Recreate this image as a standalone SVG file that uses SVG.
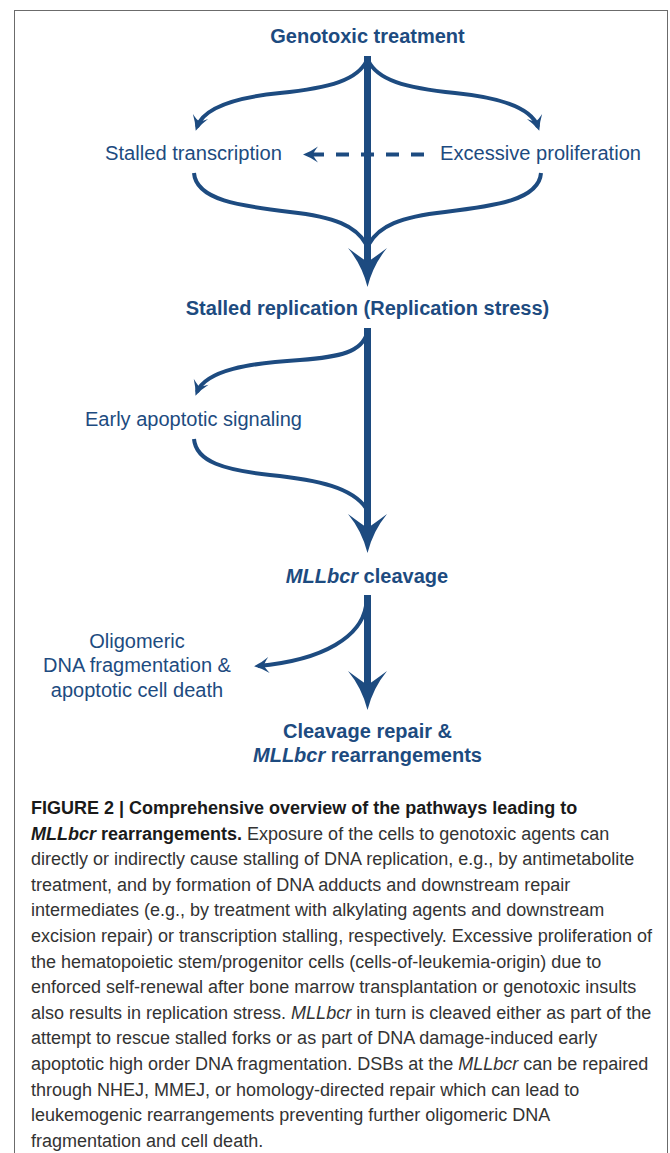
<svg xmlns="http://www.w3.org/2000/svg" width="670" height="1153" viewBox="0 0 670 1153">
<defs>
<style>
.n{font-family:"Liberation Sans",Arial,Helvetica,sans-serif;font-size:20px;fill:#1d4b80}
.b{font-weight:bold}
.i{font-style:italic}
.c{text-anchor:middle}
.cap{font-family:"Liberation Sans",Arial,Helvetica,sans-serif;font-size:18px;fill:#333333}
.capb{font-weight:bold;fill:#1a1a1a}
.thin{fill:none;stroke:#1d4b80;stroke-width:4;stroke-linecap:butt}
.main{fill:none;stroke:#1d4b80;stroke-width:7}
.dash{fill:none;stroke:#1d4b80;stroke-width:4;stroke-dasharray:13 12}
.big{fill:#1d4b80}
</style>
<marker id="ah" markerUnits="userSpaceOnUse" orient="auto" markerWidth="24" markerHeight="24" refX="12" refY="12" viewBox="0 0 24 24">
<path d="M16,12 Q8,9 1,4 Q5,9 6,12 Q5,15 1,20 Q8,15 16,12 Z" fill="#1d4b80"/>
</marker>
</defs>
<rect x="14.5" y="10.5" width="653" height="1160" fill="#ffffff" stroke="#6b6b6b" stroke-width="1"/>

<g id="connectors">
<!-- main trunk segments -->
<line class="main" x1="367.5" y1="56" x2="367.5" y2="265"/>
<path class="big" d="M367.5,287 Q362,265 348,248 Q360,257 367.5,262 Q375,257 387,248 Q373,265 367.5,287 Z"/>
<line class="main" x1="367.5" y1="328" x2="367.5" y2="530"/>
<path class="big" d="M367.5,553 Q362,531 348,514 Q360,523 367.5,528 Q375,523 387,514 Q373,531 367.5,553 Z"/>
<line class="main" x1="367.5" y1="595" x2="367.5" y2="688"/>
<path class="big" d="M367.5,710 Q362,688 348,671 Q360,680 367.5,685 Q375,680 387,671 Q373,688 367.5,710 Z"/>
<!-- branches from genotoxic treatment -->
<path class="thin" marker-end="url(#ah)" d="M367,60 C358,80 330,88 280,93 C240,97 204,106 197,127"/>
<path class="thin" marker-end="url(#ah)" d="M368,60 C377,80 405,88 455,93 C495,97 531,106 538,127"/>
<!-- merges into stalled replication -->
<path class="thin" d="M194,173 C196,200 240,206 290,212 C335,217 356,226 366,244"/>
<path class="thin" d="M541,173 C539,200 495,206 445,212 C400,217 379,226 369,244"/>
<!-- dashed: excessive proliferation to stalled transcription -->
<path class="dash" marker-end="url(#ah)" d="M424,154.5 H307"/>
<!-- stalled replication to early apoptotic signaling -->
<path class="thin" marker-end="url(#ah)" d="M367,333 C362,352 340,357 300,360 C250,363 206,370 197,392"/>
<path class="thin" d="M194,439 C196,462 225,470 270,475 C320,480 352,488 366,508"/>
<!-- MLLbcr cleavage to oligomeric fragmentation -->
<path class="thin" marker-end="url(#ah)" d="M366,606 C361,636 325,660 258,666"/>
</g>

<g id="node-genotoxic"><text class="n b c" x="367.5" y="43">Genotoxic treatment</text></g>
<g id="node-stalled-transcription"><text class="n" x="105" y="160" textLength="177" lengthAdjust="spacingAndGlyphs">Stalled transcription</text></g>
<g id="node-excessive-proliferation"><text class="n" x="440" y="160" textLength="201" lengthAdjust="spacingAndGlyphs">Excessive proliferation</text></g>
<g id="node-stalled-replication"><text class="n b c" x="367.5" y="315">Stalled replication (Replication stress)</text></g>
<g id="node-early-apoptotic"><text class="n" x="85" y="426" textLength="217" lengthAdjust="spacingAndGlyphs">Early apoptotic signaling</text></g>
<g id="node-cleavage"><text class="n b c" x="367" y="583"><tspan class="i">MLLbcr</tspan> cleavage</text></g>
<g id="node-oligomeric">
<text class="n c" x="137" y="648">Oligomeric</text>
<text class="n c" x="137" y="672">DNA fragmentation &amp;</text>
<text class="n c" x="137" y="697">apoptotic cell death</text>
</g>
<g id="node-repair">
<text class="n b c" x="367.5" y="738">Cleavage repair &amp;</text>
<text class="n b c" x="367.5" y="762"><tspan class="i">MLLbcr</tspan> rearrangements</text>
</g>

<g id="caption">
<text class="cap capb" x="31" y="814">FIGURE 2 | Comprehensive overview of the pathways leading to</text>
<text class="cap" x="31" y="839.6"><tspan class="capb i">MLLbcr</tspan><tspan class="capb"> rearrangements.</tspan> Exposure of the cells to genotoxic agents can</text>
<text class="cap" x="31" y="865.2">directly or indirectly cause stalling of DNA replication, e.g., by antimetabolite</text>
<text class="cap" x="31" y="890.8">treatment, and by formation of DNA adducts and downstream repair</text>
<text class="cap" x="31" y="916.4">intermediates (e.g., by treatment with alkylating agents and downstream</text>
<text class="cap" x="31" y="942">excision repair) or transcription stalling, respectively. Excessive proliferation of</text>
<text class="cap" x="31" y="967.6">the hematopoietic stem/progenitor cells (cells-of-leukemia-origin) due to</text>
<text class="cap" x="31" y="993.2">enforced self-renewal after bone marrow transplantation or genotoxic insults</text>
<text class="cap" x="31" y="1018.8">also results in replication stress. <tspan class="i">MLLbcr</tspan> in turn is cleaved either as part of the</text>
<text class="cap" x="31" y="1044.4">attempt to rescue stalled forks or as part of DNA damage-induced early</text>
<text class="cap" x="31" y="1070">apoptotic high order DNA fragmentation. DSBs at the <tspan class="i">MLLbcr</tspan> can be repaired</text>
<text class="cap" x="31" y="1095.6">through NHEJ, MMEJ, or homology-directed repair which can lead to</text>
<text class="cap" x="31" y="1121.2">leukemogenic rearrangements preventing further oligomeric DNA</text>
<text class="cap" x="31" y="1146.8">fragmentation and cell death.</text>
</g>
</svg>
